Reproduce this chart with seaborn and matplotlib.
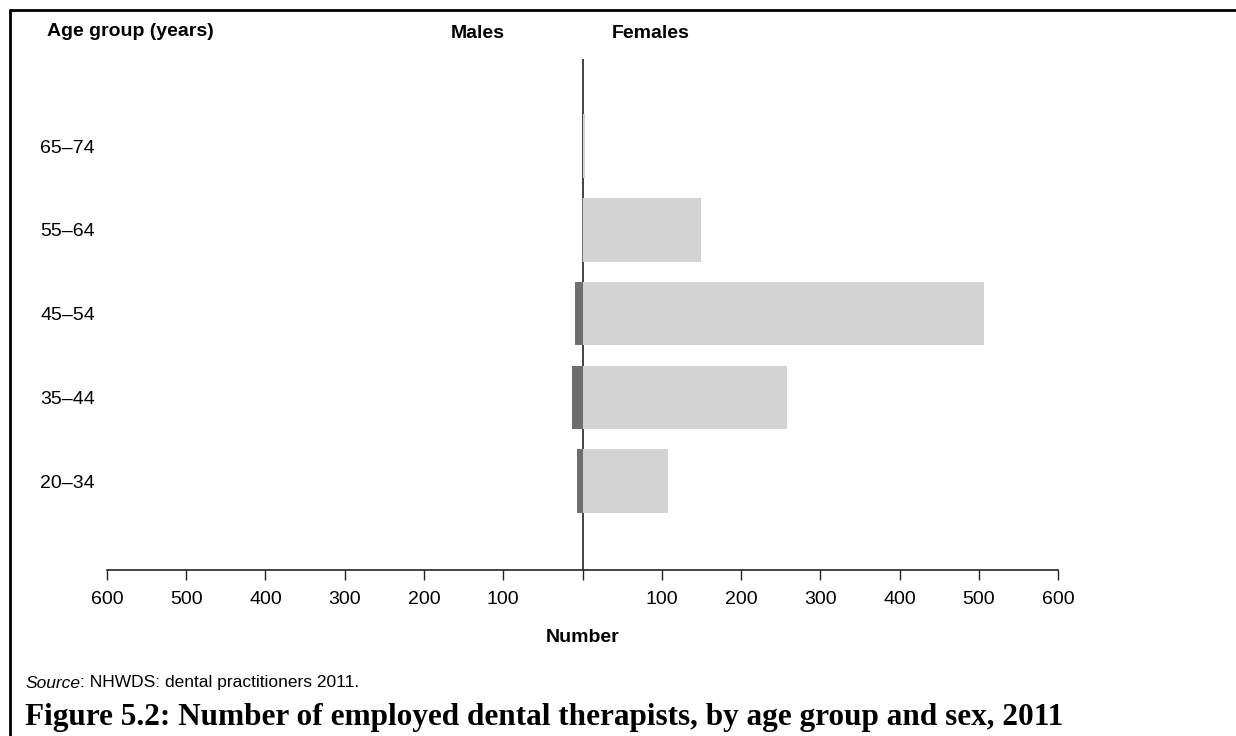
import matplotlib
matplotlib.use("Agg")
import matplotlib.pyplot as plt
import pandas as pd
import seaborn as sns

# data (numbers of employed dental therapists)
age_groups = ["65–74", "55–64", "45–54", "35–44", "20–34"]
males = [0, 1, 9, 13, 7]
females = [3, 150, 506, 258, 108]
x_ticks = [-600, -500, -400, -300, -200, -100, 0, 100, 200, 300, 400, 500, 600]
x_tick_labels = ["600", "500", "400", "300", "200", "100", "", "100", "200", "300", "400", "500", "600"]

sns.set_style("white", {"xtick.bottom": True, "text.color": "black",
                        "axes.labelcolor": "black", "xtick.color": "black", "ytick.color": "black"})
plt.rcParams["font.family"] = ["Liberation Sans", "DejaVu Sans"]

df = pd.DataFrame({
    "Age": age_groups * 2,
    "Number": [-m for m in males] + females,
    "Sex": ["Males"] * len(males) + ["Females"] * len(females),
})

fig = plt.figure(figsize=(12.36, 7.36), dpi=100)
ax = fig.add_axes([107 / 1236, 1 - 570 / 736, (1058 - 107) / 1236, (570 - 59) / 736])

# zero line underneath the bars
ax.axvline(0, color="#222222", linewidth=1.2, zorder=0)

sns.barplot(data=df, x="Number", y="Age", hue="Sex", order=age_groups, dodge=False,
            palette={"Males": "#6e6e6e", "Females": "#d3d3d3"}, width=0.76,
            linewidth=0, legend=False, ax=ax, zorder=2)

ax.set_xlim(-600, 600)
ax.set_ylim(5.06, -1.04)
ax.set_xticks(x_ticks)
ax.set_xticklabels(x_tick_labels, fontsize=14)
ax.tick_params(axis="x", bottom=True, direction="out", length=7, width=1,
               color="#222222", labelcolor="black", pad=8)
ax.tick_params(axis="y", left=False, length=0, pad=48, labelsize=14, labelcolor="black")
for lbl in ax.get_yticklabels():
    lbl.set_horizontalalignment("left")

sns.despine(ax=ax, left=True)
ax.spines["bottom"].set_color("#222222")
ax.spines["bottom"].set_linewidth(1.2)
ax.set_ylabel("")
ax.set_xlabel("Number", fontsize=14, fontweight="bold", labelpad=15, color="black")

# headers
fig.text(47 / 1236, 1 - 31 / 736, "Age group (years)", fontsize=14, fontweight="bold", va="center", color="black")
fig.text(478 / 1236, 1 - 33 / 736, "Males", fontsize=14, fontweight="bold", va="center", ha="center", color="black")
fig.text(612 / 1236, 1 - 33 / 736, "Females", fontsize=14, fontweight="bold", va="center", color="black")

# source + caption
fig.text(25 / 1236, 1 - 683 / 736, "Source", fontsize=12.5, style="italic", va="center", color="black")
fig.text(80 / 1236, 1 - 683 / 736, ": NHWDS: dental practitioners 2011.", fontsize=12.5, va="center", color="black")
fig.text(25 / 1236, 1 - 717 / 736, "Figure 5.2: Number of employed dental therapists, by age group and sex, 2011",
         fontsize=22.5, fontweight="bold", family=["Liberation Serif", "DejaVu Serif"], va="center", color="black")

# frame lines (top and left)
fig.add_artist(plt.Line2D([10 / 1236, 1236 / 1236], [1 - 10 / 736, 1 - 10 / 736], color="black", linewidth=2))
fig.add_artist(plt.Line2D([10 / 1236, 10 / 1236], [1 - 10 / 736, 0], color="black", linewidth=2))

fig.savefig("out.png", dpi=100, facecolor="white")
